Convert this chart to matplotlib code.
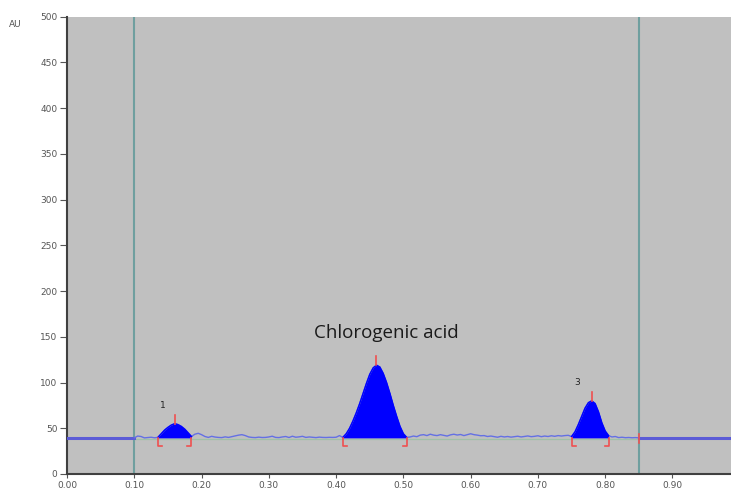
import numpy as np
import matplotlib
matplotlib.use("Agg")
import matplotlib.pyplot as plt

rf = [0.100, 0.105, 0.110, 0.115, 0.120, 0.125, 0.130, 0.135, 0.140, 0.145,
      0.150, 0.155, 0.160, 0.165, 0.170, 0.175, 0.180, 0.185, 0.190, 0.195,
      0.200, 0.205, 0.210, 0.215, 0.220, 0.225, 0.230, 0.235, 0.240, 0.245,
      0.250, 0.255, 0.260, 0.265, 0.270, 0.275, 0.280, 0.285, 0.290, 0.295,
      0.300, 0.305, 0.310, 0.315, 0.320, 0.325, 0.330, 0.335, 0.340, 0.345,
      0.350, 0.355, 0.360, 0.365, 0.370, 0.375, 0.380, 0.385, 0.390, 0.395,
      0.400, 0.405, 0.410, 0.415, 0.420, 0.425, 0.430, 0.435, 0.440, 0.445,
      0.450, 0.455, 0.460, 0.465, 0.470, 0.475, 0.480, 0.485, 0.490, 0.495,
      0.500, 0.505, 0.510, 0.515, 0.520, 0.525, 0.530, 0.535, 0.540, 0.545,
      0.550, 0.555, 0.560, 0.565, 0.570, 0.575, 0.580, 0.585, 0.590, 0.595,
      0.600, 0.605, 0.610, 0.615, 0.620, 0.625, 0.630, 0.635, 0.640, 0.645,
      0.650, 0.655, 0.660, 0.665, 0.670, 0.675, 0.680, 0.685, 0.690, 0.695,
      0.700, 0.705, 0.710, 0.715, 0.720, 0.725, 0.730, 0.735, 0.740, 0.745,
      0.750, 0.755, 0.760, 0.765, 0.770, 0.775, 0.780, 0.785, 0.790, 0.795,
      0.800, 0.805, 0.810, 0.815, 0.820, 0.825, 0.830, 0.835, 0.840, 0.845,
      0.850]
au = [39.5, 41.5, 41.0, 39.5, 39.8, 40.2, 39.6, 40.0, 44.0, 48.0,
      51.0, 53.5, 55.0, 54.0, 52.0, 49.0, 45.0, 41.0, 43.5, 44.5,
      43.0, 41.0, 40.0, 41.2, 40.4, 40.0, 39.8, 40.6, 40.0, 40.8,
      41.5, 42.5, 43.0, 42.0, 40.5, 40.0, 39.8, 40.3, 39.9, 40.0,
      40.5, 41.3, 40.0, 39.8, 40.5, 41.0, 39.9, 41.3, 40.2, 40.6,
      41.2, 40.0, 40.5, 40.2, 39.8, 40.3, 40.0, 39.9, 40.1, 40.0,
      40.2, 42.0, 40.0, 44.0, 50.0, 58.0, 67.0, 77.0, 88.0, 99.0,
      109.0, 116.0, 119.0, 117.0, 110.0, 100.0, 88.0, 75.0, 63.0, 52.0,
      44.0, 40.0, 40.5, 41.5, 40.8, 42.5, 43.0, 42.0, 43.5, 42.5,
      42.0, 43.0, 42.2, 41.5, 42.8, 43.5, 42.6, 43.2, 42.0, 43.0,
      44.0, 43.0, 42.5, 41.8, 42.0, 41.0, 41.5, 40.8, 40.2, 41.2,
      40.5, 41.0, 40.3, 40.8, 41.3, 40.5, 41.0, 41.6, 40.8, 41.2,
      41.8, 40.8, 41.5, 41.0, 41.8, 41.2, 42.0, 41.5, 42.0, 42.3,
      41.0, 46.0, 54.0, 63.0, 72.0, 78.0, 80.0, 77.0, 68.0, 56.0,
      47.0, 42.0, 40.5, 41.0, 39.8, 40.2, 39.7, 39.9, 39.6, 39.8,
      39.5]

baseline = 39.5
peaks = [(0.135, 0.185, 0.160), (0.410, 0.505, 0.460), (0.750, 0.805, 0.780)]
peak_labels = ["1", "", "3"]
markers = [0.10, 0.85]

rf = np.array(rf)
au = np.array(au)

fig = plt.figure(figsize=(7.31, 4.94), dpi=100)
ax = fig.add_axes([0.0917, 0.0405, 0.9083, 0.9256])
ax.set_facecolor("#c0c0c0")

# flat baseline outside the scanned window
ax.plot([0, markers[0]], [baseline, baseline], color="#5b5bd6", lw=2.2, zorder=3)
ax.plot([markers[1], 1.0], [baseline, baseline], color="#5b5bd6", lw=2.2, zorder=3)
ax.plot([markers[0], markers[1]], [baseline - 0.8, baseline - 0.8], color="#9fc0a8", lw=0.9, zorder=2)
ax.plot(rf, au, color="#6470e4", lw=1.0, zorder=4)

for (a, b, top), lab in zip(peaks, peak_labels):
    m = (rf >= a - 1e-9) & (rf <= b + 1e-9)
    ax.fill_between(rf[m], baseline, au[m], color="#0000ff", lw=0, zorder=5)
    ax.plot(rf[m], au[m], color="#0000ff", lw=1.0, zorder=5)
    ymax = au[m].max()
    # start / end brackets and apex tick
    ax.plot([a + 0.006, a, a], [baseline - 9, baseline - 9, baseline], color="#f05050", lw=1.2, zorder=6)
    ax.plot([b - 0.006, b, b], [baseline - 9, baseline - 9, baseline], color="#f05050", lw=1.2, zorder=6)
    ax.plot([top, top], [ymax, ymax + 10], color="#f05050", lw=1.2, zorder=6)
    if lab:
        ax.text(a + 0.008, ymax + 15, lab, fontsize=6.5, color="#222222", ha="center", va="bottom")

ax.plot([markers[1], markers[1]], [baseline - 6, baseline + 4], color="#f05050", lw=1.2, zorder=6)

for xv in markers:
    ax.axvline(xv, color="#6f9f9f", lw=1.5, zorder=1)

ax.text(0.475, 154, "Chlorogenic acid", fontsize=13.5, family="Open Sans", color="#1a1a1a",
        ha="center", va="center")

ax.set_xlim(0, 0.987)
ax.set_ylim(0, 500)
ax.set_xticks(np.arange(0, 0.91, 0.1))
ax.set_xticklabels(["%.2f" % v for v in np.arange(0, 0.91, 0.1)])
ax.set_yticks(np.arange(0, 501, 50))
ax.tick_params(axis="both", labelsize=6.5, labelcolor="#555555", color="#555555", direction="out")
ax.tick_params(axis="y", length=5, pad=2)
ax.tick_params(axis="x", length=3, pad=2)
ax.spines["top"].set_visible(False)
ax.spines["right"].set_visible(False)
ax.spines["left"].set_color("#404040")
ax.spines["bottom"].set_color("#404040")
ax.spines["left"].set_linewidth(1.5)
ax.spines["bottom"].set_linewidth(1.5)

fig.text(0.012, 0.945, "AU", fontsize=6.5, color="#555555")

fig.savefig("out.png", dpi=100)
